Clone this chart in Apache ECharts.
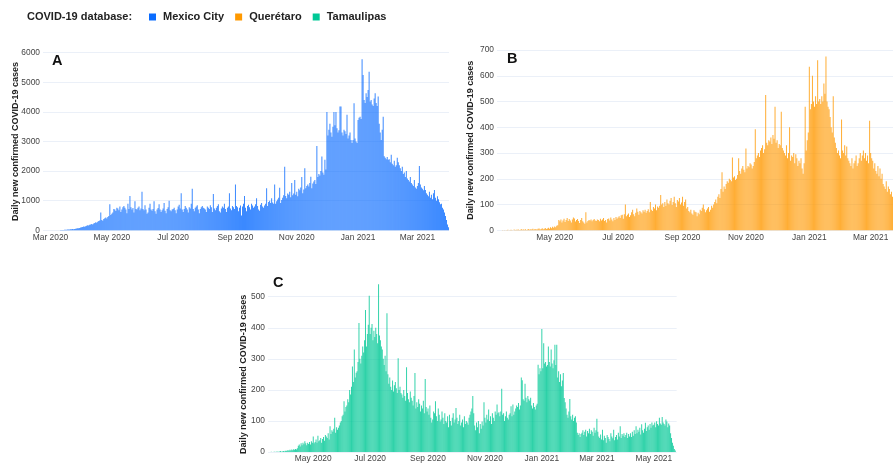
<!DOCTYPE html>
<html>
<head>
<meta charset="utf-8">
<script src="https://cdn.jsdelivr.net/npm/echarts@6/dist/echarts.min.js"></script>
<style>
html, body { margin: 0; padding: 0; background: #fff; }
#chart { width: 893px; height: 463px; }
</style>
</head>
<body>
<div id="chart"></div>
<script>
// tick labels: first day of these months
var monthNames = ['Jan', 'Feb', 'Mar', 'Apr', 'May', 'Jun', 'Jul', 'Aug', 'Sep', 'Oct', 'Nov', 'Dec'];
var tickMonths = [0, 2, 4, 6, 8, 10];

// A - Mexico City, daily from 2020-02-23
var mexicoStart = '2020-02-23';
var mexicoDays = 404;
var mexicoCity = [
    0,0,0,0,1,0,1,
    0,1,0,2,1,3,2,4,3,5,7,6,10,12,15,18,20,24,28,25,32,38,42,36,48,55,62,70,66,80,92,
    100,115,128,120,140,155,170,160,185,200,215,195,230,250,270,255,290,310,330,600,350,320,380,410,430,400,450,480,880,520,
    560,600,720,700,650,760,740,680,800,620,700,780,820,760,700,580,900,720,1160,780,700,750,600,980,720,700,760,800,680,740,1300,
    720,680,850,700,560,600,760,900,700,660,720,980,640,560,700,750,880,700,620,680,740,920,660,580,720,780,1000,680,640,700,
    720,760,680,580,700,800,860,740,1250,700,620,720,820,760,700,600,780,740,900,1400,720,640,760,800,850,700,580,720,780,820,760,
    740,700,620,800,760,720,850,780,620,1230,740,680,760,820,880,640,600,740,800,760,900,720,620,760,800,1250,740,680,820,780,720,
    1550,820,780,640,760,840,500,800,900,1160,760,640,820,860,780,700,900,840,760,800,880,1080,820,700,660,860,920,800,760,840,
    900,1420,820,960,1000,920,1080,940,900,1550,900,980,1040,1100,1440,920,1020,1100,1180,2150,1160,1080,1240,1200,1300,1120,1600,1180,1240,1700,1200,
    1300,1150,1400,1350,1450,1800,1250,1380,2100,1420,1500,1550,1480,1600,1810,1420,1580,1650,1700,1560,2850,1800,1900,1850,2000,2490,1950,1880,2380,2050,
    4000,3200,3400,3600,3300,3160,3500,4000,3550,4000,3450,3300,3380,4180,4180,3300,3200,3400,3350,3250,3900,3100,3200,3300,3050,2950,3050,4290,3100,3000,2950,
    3730,3800,3840,3760,5780,5250,4400,4300,4630,4500,4740,5360,4350,4400,4250,4200,4450,4630,4300,4200,4520,3600,3300,3050,3400,3840,2500,2450,2400,2480,2380,
    2400,2300,2550,2250,2200,2350,2150,2200,2450,2300,2200,2100,2000,2150,1900,1950,1800,2000,1750,1700,1650,1800,1600,1550,1500,1700,1450,1400,
    1500,1600,2170,1550,1450,1400,1350,1500,1360,1250,1200,1150,1300,1100,1200,1050,1250,1360,1100,1000,1150,1050,950,880,900,760,700,600,480,350,200,
    100
];

// B - Querétaro, daily from 2020-03-07 (right edge is cut off)
var queretaroStart = '2020-03-07';
var queretaroDays = 381;
var queretaro = [
    0,0,0,0,0,1,0,1,0,1,2,0,1,2,1,0,3,1,2,2,3,1,2,4,2,
    3,2,4,1,3,5,2,4,3,6,2,5,4,3,6,7,3,5,8,4,6,9,5,7,10,6,12,8,14,10,
    15,12,18,20,40,35,42,30,38,45,32,40,48,36,44,38,30,42,50,46,34,40,44,36,28,40,48,35,30,25,70,
    30,36,40,38,42,35,40,44,38,36,42,40,35,45,38,42,48,36,40,30,44,46,38,50,42,35,48,40,52,45,
    50,55,48,58,60,45,62,100,55,60,65,52,58,70,80,62,55,68,85,72,60,75,70,65,78,72,80,68,75,82,70,
    110,80,75,90,85,100,78,92,88,95,137,100,105,90,110,95,120,105,100,115,125,98,110,130,105,90,118,112,125,100,108,
    130,95,110,120,85,90,75,70,80,65,60,78,72,70,55,68,62,80,75,88,100,82,70,78,85,90,72,80,95,88,
    100,110,120,105,130,140,125,160,225,150,170,160,180,190,185,200,195,190,283,205,210,195,200,215,280,230,220,240,250,235,225,
    318,240,250,245,260,255,240,250,265,392,280,290,300,285,310,320,330,300,315,525,340,330,350,345,360,335,370,355,480,340,
    350,320,335,330,460,320,310,300,290,330,280,300,400,270,290,285,300,260,295,280,250,270,260,280,240,220,260,480,310,350,380,
    635,470,490,600,500,480,520,490,660,500,510,490,520,500,570,530,675,500,480,470,440,400,380,520,360,340,320,300,310,290,280,
    430,310,300,330,290,325,280,270,260,250,280,240,260,270,290,250,260,280,300,270,290,310,280,300,270,290,260,425,
    300,280,270,240,260,230,220,250,210,240,200,220,180,170,160,190,150,170,160,140,150,130
];

// C - Tamaulipas, daily from 2020-03-14
var tamaulipasStart = '2020-03-14';
var tamaulipasDays = 438;
var tamaulipas = [
    0,0,0,1,0,0,1,1,0,2,1,1,2,3,1,2,3,2,
    4,3,5,6,4,7,5,8,6,9,7,10,8,12,20,24,18,28,22,30,25,35,28,22,30,26,32,24,35,30,
    50,28,32,40,30,52,35,38,45,30,42,48,36,55,50,45,60,40,83,58,70,65,75,110,62,80,72,78,85,95,100,
    115,120,163,130,145,150,170,160,200,185,210,275,225,330,240,255,260,290,415,300,285,310,340,320,360,457,340,380,410,503,
    380,400,412,360,390,370,400,380,350,540,375,360,340,330,300,280,310,260,447,250,220,240,210,200,230,195,215,225,205,190,302,
    200,210,190,185,175,200,180,165,273,190,170,160,195,175,165,150,180,254,140,160,145,170,155,130,150,140,165,125,235,145,130,
    140,120,150,110,95,105,130,125,163,115,100,140,120,98,105,130,110,90,125,100,95,115,80,120,100,85,110,125,95,105,
    142,110,90,100,120,85,95,105,80,115,90,100,95,88,110,120,130,140,180,125,85,70,95,80,100,60,90,75,98,85,160,
    110,95,120,105,137,100,115,90,125,110,100,130,120,153,125,128,115,130,204,120,125,100,115,130,110,105,120,125,147,115,
    153,120,130,140,150,145,158,137,150,240,231,170,165,220,175,160,180,170,165,175,150,140,158,145,137,150,155,281,250,270,260,
    396,270,350,285,290,275,280,340,290,275,330,285,270,295,345,280,345,240,260,225,250,212,230,254,174,160,140,120,110,130,171,
    115,105,120,100,110,115,95,62,55,60,48,58,62,70,55,65,72,50,68,60,75,58,70,65,52,78,62,70,
    107,65,50,45,56,40,72,38,52,45,30,55,48,42,35,60,50,44,72,38,48,55,40,62,50,83,45,58,52,60,48,
    55,62,45,58,50,60,48,65,52,70,58,83,60,72,65,78,56,89,70,62,75,94,68,80,85,72,90,78,95,85,
    88,95,80,99,90,85,110,92,88,113,95,90,85,105,98,80,92,85,60,45,30,20,10,5
];

var colors = ['#0a6cff', '#ff9900', '#00c896'];
var font = '"Liberation Sans", Arial, sans-serif';

function dayList(start, n) {
    var t = Date.parse(start + 'T00:00:00Z');
    var out = [];
    for (var i = 0; i < n; i++) {
        out.push(new Date(t + i * 86400000).toISOString().slice(0, 10));
    }
    return out;
}

function isTick(idx, val) {
    var p = val.split('-');
    return p[2] === '01' && tickMonths.indexOf(+p[1] - 1) >= 0;
}

function xAxisFor(gridIndex, cats) {
    return {
        type: 'category',
        gridIndex: gridIndex,
        data: cats,
        boundaryGap: true,
        axisLine: { show: false },
        axisTick: { show: false },
        splitLine: { show: false },
        axisLabel: {
            interval: isTick,
            margin: 3,
            color: '#444',
            fontFamily: font,
            fontSize: 8.4,
            formatter: function (val) {
                var p = val.split('-');
                return monthNames[+p[1] - 1] + ' ' + p[0];
            }
        }
    };
}

function yAxisFor(gridIndex, max, step, gap) {
    return {
        type: 'value',
        gridIndex: gridIndex,
        min: 0,
        max: max,
        interval: step,
        name: 'Daily new confirmed COVID-19 cases',
        nameLocation: 'middle',
        nameRotate: 90,
        nameGap: gap,
        nameMoveOverlap: false,
        nameTextStyle: { fontFamily: font, fontWeight: 'bold', fontSize: 9, color: '#222' },
        axisLine: { show: false },
        axisTick: { show: false },
        splitLine: { lineStyle: { color: '#ebf0f8', width: 1 } },
        axisLabel: {
            margin: 3,
            color: '#444',
            fontFamily: font,
            fontSize: 8.4,
            formatter: function (v) { return String(v); }
        }
    };
}

function barSeries(name, idx, data) {
    return {
        type: 'bar',
        name: name,
        xAxisIndex: idx,
        yAxisIndex: idx,
        data: data,
        barCategoryGap: '15%',
        large: false,
        clip: false,
        silent: true,
        itemStyle: { color: colors[idx], opacity: 0.8 }
    };
}

var chart = echarts.init(document.getElementById('chart'), null, { renderer: 'canvas' });

var option = {
    animation: false,
    backgroundColor: '#fff',
    textStyle: { fontFamily: font },
    legend: {
        left: 149,
        top: 11.5,
        padding: 0,
        itemWidth: 7,
        itemHeight: 7,
        itemGap: 11,
        icon: 'rect',
        selectedMode: false,
        itemStyle: { opacity: 1 },
        textStyle: { fontFamily: font, fontWeight: 'bold', fontSize: 11, color: '#222', padding: [0, 0, 0, 2] },
        data: ['Mexico City', 'Querétaro', 'Tamaulipas']
    },
    graphic: [
        { type: 'text', left: 27, top: 11.5, style: { text: 'COVID-19 database:', font: 'bold 11px ' + font, fill: '#222' } },
        { type: 'text', x: 52, y: 60.5, style: { text: 'A', font: 'bold 14.5px ' + font, fill: '#111', verticalAlign: 'middle' } },
        { type: 'text', x: 507, y: 59, style: { text: 'B', font: 'bold 14.5px ' + font, fill: '#111', verticalAlign: 'middle' } },
        { type: 'text', x: 273, y: 282.5, style: { text: 'C', font: 'bold 14.5px ' + font, fill: '#111', verticalAlign: 'middle' } }
    ],
    grid: [
        { left: 43, top: 52.7, width: mexicoDays * 1.005, height: 177.6 },
        { left: 497, top: 50, width: queretaroDays * 1.0436, height: 180.3 },
        { left: 268, top: 296.7, width: tamaulipasDays * 0.933, height: 156 }
    ],
    xAxis: [
        xAxisFor(0, dayList(mexicoStart, mexicoDays)),
        xAxisFor(1, dayList(queretaroStart, queretaroDays)),
        xAxisFor(2, dayList(tamaulipasStart, tamaulipasDays))
    ],
    yAxis: [
        yAxisFor(0, 6000, 1000, 23),
        yAxisFor(1, 700, 100, 21.5),
        yAxisFor(2, 500, 100, 20)
    ],
    series: [
        barSeries('Mexico City', 0, mexicoCity),
        barSeries('Querétaro', 1, queretaro),
        barSeries('Tamaulipas', 2, tamaulipas)
    ]
};

chart.setOption(option);
</script>
</body>
</html>
